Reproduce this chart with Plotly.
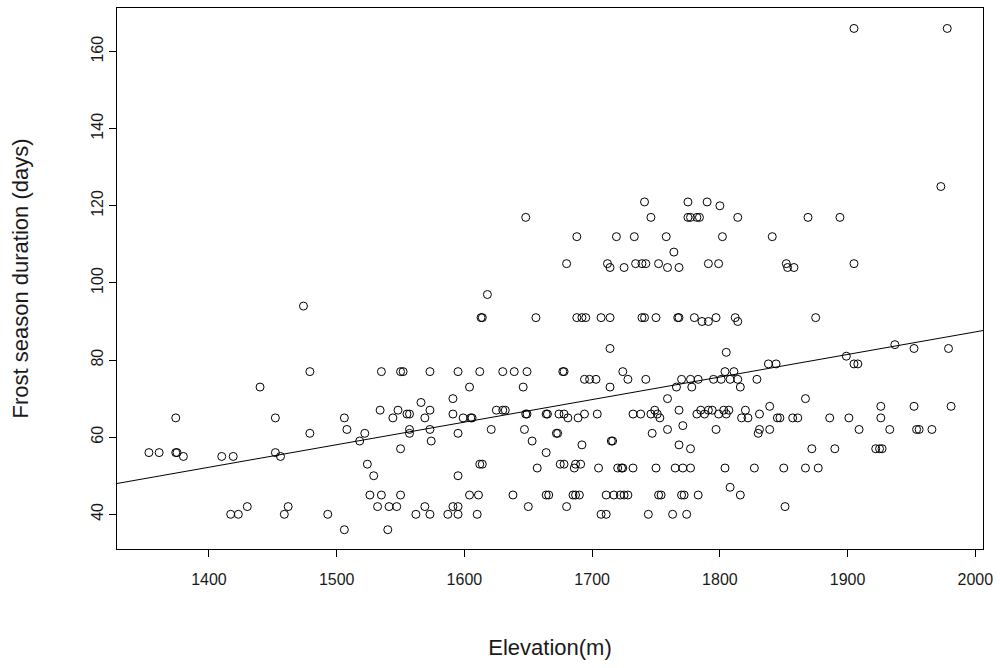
import plotly.graph_objects as go

# Elevation (m) and frost season duration (days)
elevation = [
    1353, 1361, 1374, 1374, 1375, 1380, 1410, 1419, 1417, 1423, 1430, 1440, 1452, 1452, 1456, 1459, 1462,
    1474, 1479, 1479, 1493,
    1535, 1550, 1552, 1573, 1595, 1591, 1566, 1534, 1548, 1555, 1557, 1573, 1591, 1506, 1544, 1569,
    1508, 1522, 1557, 1557, 1573, 1574, 1518, 1595, 1550, 1524, 1529, 1595, 1526, 1535, 1550,
    1532, 1541, 1547, 1569, 1591, 1595, 1562, 1573, 1587, 1595, 1506, 1540,
    1648, 1688, 1680, 1712, 1714, 1618, 1613, 1614, 1656, 1688, 1692, 1695, 1707, 1714, 1714,
    1612, 1630, 1639, 1649, 1677, 1678, 1694, 1698, 1703, 1604, 1646, 1714,
    1599, 1605, 1606, 1625, 1630, 1632, 1648, 1649, 1664, 1665, 1674, 1678, 1694, 1704, 1681, 1689,
    1621, 1647, 1672, 1673, 1653, 1715, 1692, 1664, 1612, 1614, 1675, 1678, 1687, 1691, 1686, 1657, 1705,
    1604, 1611, 1638, 1664, 1666, 1685, 1687, 1690, 1711, 1650, 1680, 1610, 1707, 1711,
    1741, 1775, 1790, 1800, 1746, 1775, 1777, 1782, 1784, 1814, 1719, 1733, 1758, 1802, 1764,
    1725, 1734, 1739, 1742, 1752, 1759, 1768, 1791, 1799,
    1739, 1741, 1750, 1767, 1768, 1780, 1786, 1791, 1797, 1812, 1814, 1805,
    1724, 1728, 1742, 1770, 1777, 1783, 1766, 1778, 1795, 1804, 1811, 1801, 1808, 1814, 1759,
    1732, 1738, 1746, 1749, 1751, 1753, 1768, 1782, 1785, 1788, 1791, 1794, 1799, 1803, 1805, 1807,
    1817, 1820, 1822, 1759, 1771, 1747, 1797, 1716, 1768, 1777,
    1720, 1723, 1724, 1732, 1750, 1765, 1771, 1777, 1804, 1808,
    1717, 1722, 1725, 1728, 1752, 1754, 1770, 1772, 1783, 1816, 1744, 1763, 1774,
    1869, 1894, 1841, 1852, 1853, 1858, 1905, 1875,
    1838, 1844, 1899, 1905, 1908, 1829, 1816, 1867, 1839, 1831, 1845, 1847, 1857, 1861, 1886, 1901,
    1831, 1839, 1830, 1909, 1872, 1890, 1827, 1850, 1867, 1877, 1851,
    1905, 1978, 1973, 1937, 1952, 1979, 1926, 1952, 1981, 1926, 1933, 1954, 1956, 1966, 1922, 1925, 1927,
]
frost_days = [
    56, 56, 65, 56, 56, 55, 55, 55, 40, 40, 42, 73, 65, 56, 55, 40, 42,
    94, 77, 61, 40,
    77, 77, 77, 77, 77, 70, 69, 67, 67, 66, 66, 67, 66, 65, 65, 65,
    62, 61, 62, 61, 62, 59, 59, 61, 57, 53, 50, 50, 45, 45, 45,
    42, 42, 42, 42, 42, 42, 40, 40, 40, 40, 36, 36,
    117, 112, 105, 105, 104, 97, 91, 91, 91, 91, 91, 91, 91, 91, 83,
    77, 77, 77, 77, 77, 77, 75, 75, 75, 73, 73, 73,
    65, 65, 65, 67, 67, 67, 66, 66, 66, 66, 66, 66, 66, 66, 65, 65,
    62, 62, 61, 61, 59, 59, 58, 56, 53, 53, 53, 53, 53, 53, 52, 52, 52,
    45, 45, 45, 45, 45, 45, 45, 45, 45, 42, 42, 40, 40, 40,
    121, 121, 121, 120, 117, 117, 117, 117, 117, 117, 112, 112, 112, 112, 108,
    104, 105, 105, 105, 105, 104, 104, 105, 105,
    91, 91, 91, 91, 91, 91, 90, 90, 91, 91, 90, 82,
    77, 75, 75, 75, 75, 75, 73, 73, 75, 77, 77, 75, 75, 75, 70,
    66, 66, 66, 67, 66, 65, 67, 66, 67, 66, 67, 67, 66, 67, 66, 67,
    65, 67, 65, 62, 63, 61, 62, 59, 58, 57,
    52, 52, 52, 52, 52, 52, 52, 52, 52, 47,
    45, 45, 45, 45, 45, 45, 45, 45, 45, 45, 40, 40, 40,
    117, 117, 112, 105, 104, 104, 105, 91,
    79, 79, 81, 79, 79, 75, 73, 70, 68, 66, 65, 65, 65, 65, 65, 65,
    62, 62, 61, 62, 57, 57, 52, 52, 52, 52, 42,
    166, 166, 125, 84, 83, 83, 68, 68, 68, 65, 62, 62, 62, 62, 57, 57, 57,
]

# Fitted line: days = intercept + slope * elevation
fit_intercept = -29.7
fit_slope = 0.0585

x_ticks = [1400, 1500, 1600, 1700, 1800, 1900, 2000]
y_ticks = [40, 60, 80, 100, 120, 140, 160]
x_range = [1328, 2006]
y_range = [31.0, 171.3]

fig = go.Figure()
fig.add_trace(go.Scatter(
    x=elevation, y=frost_days, mode="markers",
    marker=dict(symbol="circle-open", size=8, color="black", line=dict(width=1, color="black")),
    hoverinfo="x+y", showlegend=False,
))
fig.add_trace(go.Scatter(
    x=x_range, y=[fit_intercept + fit_slope * v for v in x_range], mode="lines",
    line=dict(color="black", width=1), showlegend=False, hoverinfo="skip",
))

font = dict(family="Liberation Sans, Arial, sans-serif", size=16, color="#1a1a1a")
title_font = dict(family="Liberation Sans, Arial, sans-serif", size=22, color="#1a1a1a")
fig.update_layout(
    width=1000, height=668,
    margin=dict(l=117, r=17, t=8, b=119),
    paper_bgcolor="white", plot_bgcolor="white",
    font=font,
    xaxis=dict(
        range=x_range, tickvals=x_ticks, ticktext=[str(v) for v in x_ticks],
        showgrid=False, zeroline=False, showline=True, mirror=True,
        linecolor="black", linewidth=1, ticks="outside", ticklen=7, tickcolor="black",
        ticklabelstandoff=9,
        title=dict(text="Elevation(m)", standoff=52, font=title_font), automargin=False,
    ),
    yaxis=dict(
        range=y_range, tickvals=y_ticks, ticktext=[str(v) for v in y_ticks],
        showgrid=False, zeroline=False, showline=True, mirror=True,
        linecolor="black", linewidth=1, ticks="outside", ticklen=7, tickcolor="black",
        tickangle=-90,
        title=dict(text="Frost season duration (days)", standoff=53, font=title_font), automargin=False,
    ),
)
fig.write_html("out.html")
